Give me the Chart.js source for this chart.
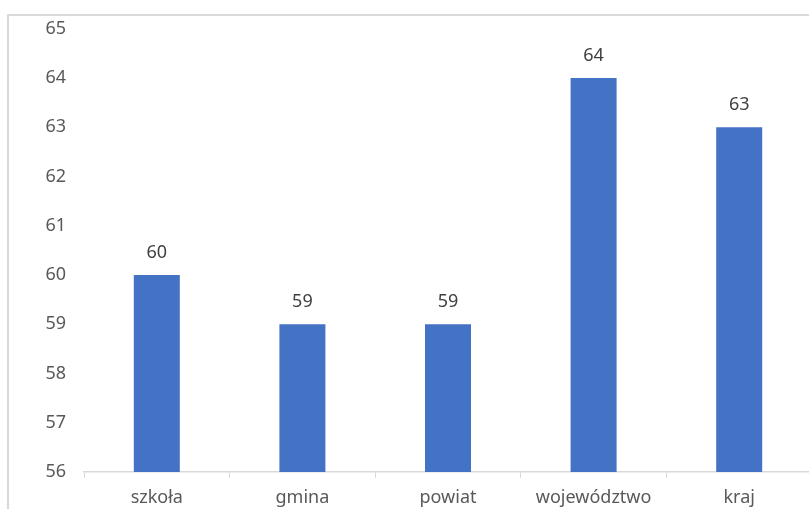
<!DOCTYPE html>
<html>
<head>
<meta charset="utf-8">
<script src="https://cdn.jsdelivr.net/npm/chart.js@4/dist/chart.umd.min.js"></script>
<style>
    html, body { margin: 0; padding: 0; background: #fff; overflow: hidden; }
    #wrap { position: relative; width: 809px; height: 509px; overflow: hidden; }
    #frame {
        position: absolute; left: 7px; top: 14px; width: 900px; height: 600px;
        border-left: 2px solid #d9d9d9; border-top: 2px solid #d9d9d9;
    }
    #holder { position: absolute; left: 0; top: 0; width: 830px; height: 509px; }
</style>
</head>
<body>
<div id="wrap">
    <div id="frame"></div>
    <div id="holder"><canvas id="chart"></canvas></div>
</div>
<script>
const categories = ['szkoła', 'gmina', 'powiat', 'województwo', 'kraj'];
const values = [60, 59, 59, 64, 63];
const yMin = 56;
const yMax = 65;

const FONT = '"Noto Sans", "Open Sans", sans-serif';

// Draw value labels above each bar
const valueLabels = {
    id: 'valueLabels',
    afterDatasetsDraw(chart) {
        const ctx = chart.ctx;
        const meta = chart.getDatasetMeta(0);
        ctx.save();
        ctx.font = '18px ' + FONT;
        ctx.fillStyle = '#404040';
        ctx.textAlign = 'center';
        ctx.textBaseline = 'middle';
        meta.data.forEach((bar, i) => {
            ctx.fillText(values[i], bar.x, bar.y - 22);
        });
        ctx.restore();
    }
};

new Chart(document.getElementById('chart'), {
    type: 'bar',
    data: {
        labels: categories,
        datasets: [{
            data: values,
            backgroundColor: '#4472c4',
            borderWidth: 0,
            barPercentage: 0.316,
            categoryPercentage: 1
        }]
    },
    options: {
        responsive: true,
        maintainAspectRatio: false,
        animation: false,
        layout: { padding: { top: 27, left: 0, right: 18, bottom: 0 } },
        plugins: {
            legend: { display: false },
            tooltip: { enabled: false }
        },
        scales: {
            x: {
                afterFit: (scale) => { scale.height = 37; },
                border: { display: true, color: '#d9d9d9', width: 1.5 },
                grid: {
                    offset: true,
                    drawOnChartArea: false,
                    drawTicks: true,
                    tickLength: 6,
                    color: '#d9d9d9'
                },
                ticks: {
                    padding: 9,
                    color: '#595959',
                    font: { family: FONT, size: 18 }
                }
            },
            y: {
                min: yMin,
                max: yMax,
                afterFit: (scale) => { scale.width = 84; },
                border: { display: false },
                grid: { display: false, drawTicks: false },
                ticks: {
                    stepSize: 1,
                    padding: 18,
                    color: '#595959',
                    font: { family: FONT, size: 18 }
                }
            }
        }
    },
    plugins: [valueLabels]
});
</script>
</body>
</html>
